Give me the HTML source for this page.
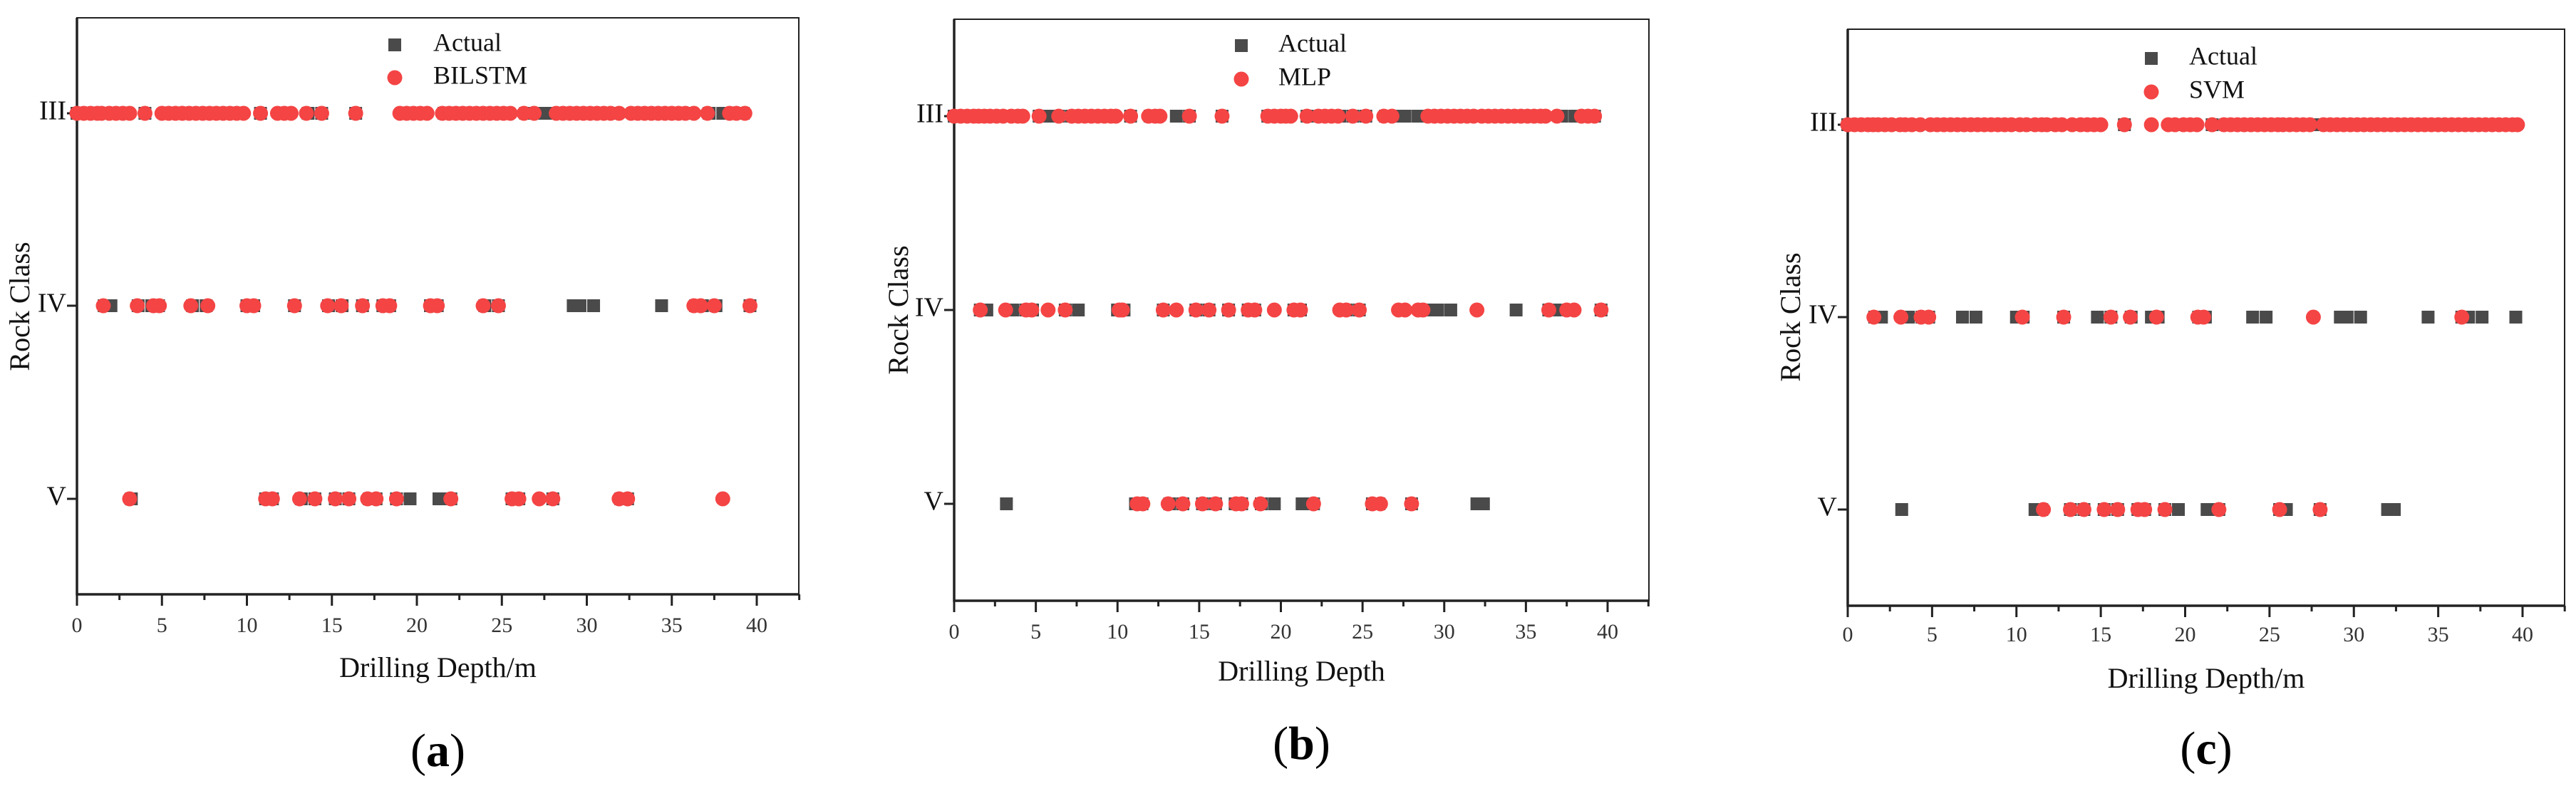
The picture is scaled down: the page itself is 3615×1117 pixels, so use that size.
<!DOCTYPE html>
<html><head><meta charset="utf-8"><style>
html,body{margin:0;padding:0;background:#fff;}
svg{display:block;font-family:"Liberation Serif",serif;}
</style></head><body>
<svg id="fig" width="3615" height="1117" viewBox="0 0 3615 1117" xmlns="http://www.w3.org/2000/svg"></svg>
<script>
// Data arrays
const xTicks = [0,5,10,15,20,25,30,35,40];
const classLabels = ["III","IV","V"];
const actualIII = [0,0.4,0.8,1.2,2.4,2.8,4,5.2,5.6,6,6.4,7.2,8,8.4,8.8,9.2,9.6,10.8,12,12.4,13.6,14.4,16.4,19.2,20,20.4,21.6,22.4,22.8,23.2,23.6,24.4,25.2,26.4,26.8,27.2,27.6,28.4,28.8,30,30.8,31.2,31.6,32.8,33.2,33.6,34,34.8,35.2,35.6,36,37.2,38,38.4,38.8,39.2];
const actualIV = [1.6,2,3.6,4.4,4.8,6.8,7.6,10,10.4,12.8,14.8,15.6,16.8,18,18.4,20.8,21.2,24,24.8,29.2,29.6,30.4,34.4,36.4,36.8,37.6,39.6];
const actualV = [3.2,11.1,11.5,13.2,14,15.2,16,17.2,17.6,18.8,19.6,21.3,22,25.6,26,28,32,32.4];

const bilstmIII = [0,0.4,0.8,1.2,1.45,1.9,2.3,2.7,3.1,4,5,5.4,5.8,6.2,6.6,7,7.4,7.8,8.2,8.6,9,9.4,9.8,10.8,11.8,12.2,12.6,13.5,14.4,16.4,19,19.4,19.8,20.2,20.6,21.5,21.9,22.3,22.7,23.1,23.5,23.9,24.3,24.7,25.1,25.5,26.3,26.9,28.2,28.6,29,29.4,29.8,30.2,30.6,31,31.4,31.9,32.6,33,33.4,33.8,34.2,34.6,35,35.4,35.8,36.3,37.1,38.4,38.8,39.3];
const bilstmIV = [1.55,3.55,4.5,4.85,6.7,7.7,10,10.4,12.8,14.75,15.55,16.8,18,18.4,20.8,21.2,23.9,24.8,36.3,36.7,37.5,39.6];
const bilstmV = [3.1,11.1,11.5,13.1,14,15.2,16,17.1,17.6,18.8,22,25.6,26,27.2,28,31.9,32.4,38];

const mlpIII = [0,0.4,0.8,1.2,1.5,1.85,2.2,2.6,3,3.5,3.9,4.2,5.2,6.4,7.2,7.6,8,8.4,8.8,9.2,9.6,9.9,10.8,11.9,12.3,12.6,14.4,16.4,19.2,19.6,20,20.3,20.6,21.6,22.3,22.7,23.1,23.5,24.4,25.2,26.3,26.8,29,29.4,29.8,30.2,30.6,31,31.4,31.8,32.3,32.7,33.1,33.5,33.9,34.3,34.7,35.1,35.5,35.9,36.2,36.9,38.4,38.8,39.2];
const mlpIV = [1.6,3.15,4.4,4.75,5.75,6.8,10.1,10.3,12.8,13.6,14.8,15.6,16.8,18,18.4,19.6,20.8,21.2,23.6,24,24.8,27.2,27.6,28.4,28.7,32,36.4,37.5,37.95,39.6];
const mlpV = [11.2,11.55,13.1,14,15.2,16,17.25,17.6,18.75,22,25.6,26.1,28];

const svmIII = [0,0.4,0.8,1.2,1.5,1.8,2.2,2.6,3.1,3.4,3.8,4.3,4.9,5.3,5.7,6.1,6.5,6.9,7.3,7.7,8.1,8.5,8.9,9.3,9.7,10.2,10.6,11.1,11.5,11.8,12.3,12.7,13.3,13.8,14.2,14.6,15,16.4,18,19,19.4,19.9,20.3,20.7,21.6,22.3,22.7,23.1,23.5,23.9,24.3,24.7,25.1,25.5,25.8,26.2,26.6,27,27.4,28.2,28.6,29,29.4,29.8,30.2,30.6,31,31.4,31.8,32.2,32.6,33,33.4,33.8,34.2,34.6,35,35.4,35.8,36.2,36.6,37,37.4,37.8,38.2,38.6,39,39.4,39.7];
const svmIV = [1.55,3.15,4.35,4.8,10.35,12.8,15.6,16.75,18.3,20.75,21.1,27.6,36.4];
const svmV = [11.6,13.2,14,15.2,16,17.2,17.6,18.8,22,25.6,28];

const panels = [
 {id:"a", model:"BILSTM", xtitle:"Drilling Depth/m", pred:[bilstmIII,bilstmIV,bilstmV],
  L:108, R:1121, T:25, B:834, x40:1062, rows:[159,429,700], tickY:880, titleY:941, lblY:1060, legX:554, legTX:608, legY:[63,109], ylabX:32, ylabY:430},
 {id:"b", model:"MLP", xtitle:"Drilling Depth", pred:[mlpIII,mlpIV,mlpV],
  L:1339, R:2314, T:27, B:843, x40:2256, rows:[163,435,707], tickY:889, titleY:946, lblY:1050, legX:1742, legTX:1794, legY:[64,111], ylabX:1265, ylabY:435},
 {id:"c", model:"SVM", xtitle:"Drilling Depth/m", pred:[svmIII,svmIV,svmV],
  L:2593, R:3599, T:41, B:850, x40:3540, rows:[175,445,715], tickY:893, titleY:956, lblY:1057, legX:3019, legTX:3072, legY:[82,129], ylabX:2517, ylabY:445}
];
const actual = [actualIII, actualIV, actualV];
const NS="http://www.w3.org/2000/svg";
const fig=document.getElementById('fig');
function mk(tag, attrs, parent){const e=document.createElementNS(NS,tag);for(const k in attrs)e.setAttribute(k,attrs[k]);(parent||fig).appendChild(e);return e;}
const RED="#f44444", GRAY="#4a4a4a";
panels.forEach(p=>{
  const g=mk('g',{});
  
  
  const xs=v=>p.L+(p.x40-p.L)*v/40;
  // frame
  const fr=mk('rect',{x:p.L,y:p.T,width:p.R-p.L,height:p.B-p.T,fill:'none',stroke:'#222','stroke-width':2},g);
  
  
  const ax=mk('path',{d:`M${p.L} ${p.T}V${p.B}H${p.R}`,fill:'none',stroke:'#222','stroke-width':3.5},g);
  
  
  // x ticks
  for(let v=0; xs(v)<=p.R+1; v+=2.5){
    const major = (v%5===0);
    mk('line',{x1:xs(v),x2:xs(v),y1:p.B,y2:p.B+(major?16:8),stroke:'#222','stroke-width':3},g);
  }
  xTicks.forEach(v=>{
    const t=mk('text',{x:xs(v),y:p.tickY,'font-size':30,'text-anchor':'middle','dominant-baseline':'middle',fill:'#333'},g);
    t.textContent=v;
    
    
  });
  // y ticks
  p.rows.forEach((y,i)=>{
    mk('line',{x1:p.L-14,x2:p.L,y1:y,y2:y,stroke:'#222','stroke-width':3},g);
    const t=mk('text',{x:p.L-15,y:y,'font-size':38,'text-anchor':'end','dominant-baseline':'middle',fill:'#111'},g);
    t.textContent=classLabels[i];
    
    
  });
  // series: actual squares
  const sa=mk('g',{},g);
  
  
  actual.forEach((arr,i)=>arr.forEach(v=>{
    const r=mk('rect',{x:xs(v)-9,y:p.rows[i]-9,width:18,height:18,fill:GRAY},sa);
    
    
  }));
  const sp=mk('g',{},g);
  
  
  p.pred.forEach((arr,i)=>arr.forEach(v=>{
    const c=mk('circle',{cx:xs(v),cy:p.rows[i],r:10.5,fill:RED},sp);
    
    
  }));
  // legend
  const lg=mk('g',{},g);
  
  
  mk('rect',{x:p.legX-9,y:p.legY[0]-9,width:18,height:18,fill:GRAY},lg);
  mk('circle',{cx:p.legX,cy:p.legY[1],r:10.5,fill:RED},lg);
  const t1=mk('text',{x:p.legTX,y:p.legY[0],'font-size':36,'dominant-baseline':'middle',fill:'#111'},lg);
  t1.textContent='Actual';
  
  
  const t2=mk('text',{x:p.legTX,y:p.legY[1],'font-size':36,'dominant-baseline':'middle',fill:'#111'},lg);
  t2.textContent=p.model;
  
  
  // titles
  const xt=mk('text',{x:(p.L+p.R)/2,y:p.titleY,'font-size':40,'text-anchor':'middle','dominant-baseline':'middle',fill:'#111'},g);
  xt.textContent=p.xtitle;
  
  
  const yt=mk('text',{x:p.ylabX,y:p.ylabY,'font-size':40,'text-anchor':'middle','dominant-baseline':'middle',fill:'#111',transform:`rotate(-90 ${p.ylabX} ${p.ylabY})`},g);
  yt.textContent='Rock Class';
  
  
  const pl=mk('text',{x:(p.L+p.R)/2,y:p.lblY,'font-size':66,'text-anchor':'middle','dominant-baseline':'middle',fill:'#000'},g);
  pl.innerHTML='(<tspan font-weight="bold">'+p.id+'</tspan>)';
  
  
});
</script>
</body></html>
